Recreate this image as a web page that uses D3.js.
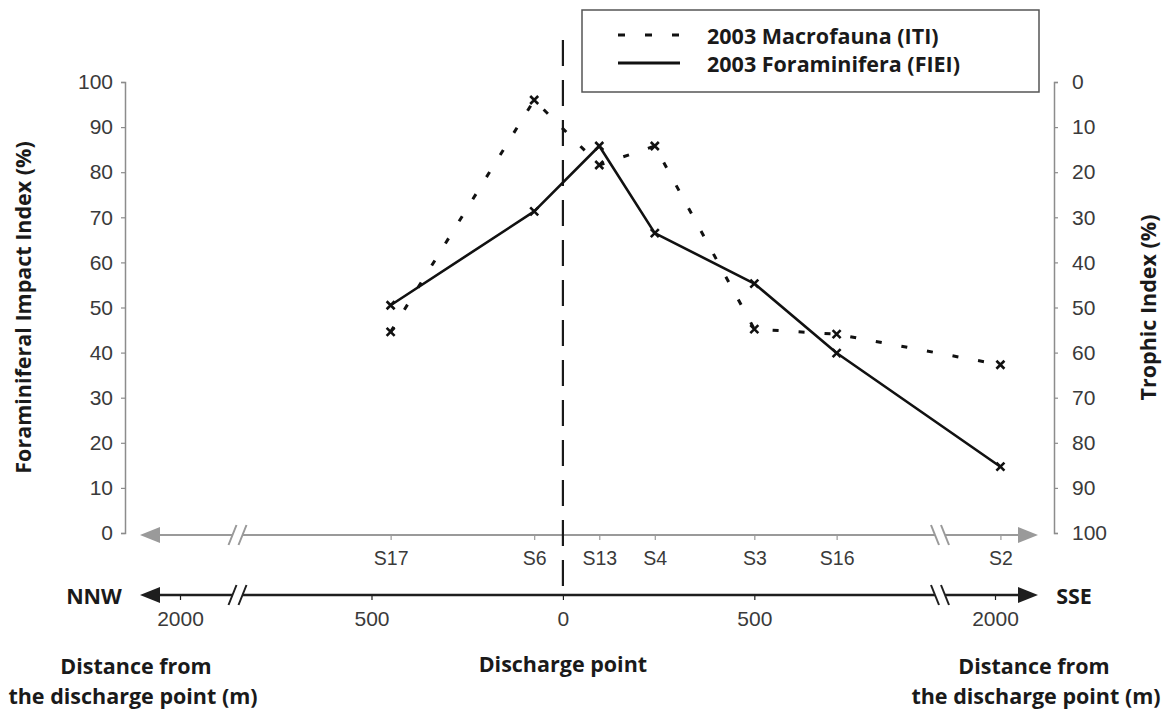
<!DOCTYPE html>
<html>
<head>
<meta charset="utf-8">
<script src="https://cdn.jsdelivr.net/npm/d3@7"></script>
<style>
  body { margin: 0; background: #fff; }
  svg { display: block; font-family: "Open Sans", sans-serif; }
  .axis-label { font-weight: bold; fill: #1a1a1a; }
  .tick text { fill: #3a3a3a; }
</style>
</head>
<body>
<div id="chart"></div>
<script>
// --- data ---
const stations = ["S17", "S6", "S13", "S4", "S3", "S16", "S2"];
// signed distance from the discharge point (m), NNW negative / SSE positive
const stationDistance = [-450, -75, 95, 240, 500, 715, 2100];
const foraminiferaFIEI = [50.5, 71.3, 85.8, 66.5, 55.3, 39.9, 14.7];   // left axis
const macrofaunaITI = [55.4, 4.0, 18.4, 14.2, 54.8, 55.9, 62.7];      // right axis (reversed)
const indexTicks = [0, 10, 20, 30, 40, 50, 60, 70, 80, 90, 100];
const distanceTicks = [-2000, -500, 0, 500, 2000];
const distanceTickLabels = ["2000", "500", "0", "500", "2000"];
const seriesNames = ["2003 Macrofauna (ITI)", "2003 Foraminifera (FIEI)"];

(function () {
    const W = 1165, H = 711;
    const plot = { left: 125, right: 1054, top: 82, bottom: 533 };
    const grayAxisY = 535, blackAxisY = 595;
    const arrowLeft = 140, arrowRight = 1038;
    const breakLeft = -850, breakRight = 985;   // axis breaks (m)
    const boldSize = "21.5px";

    const svg = d3.select("#chart").append("svg")
        .attr("width", W).attr("height", H);

    // 1. Scales (x is piecewise so the far stations sit beyond the break)
    const x = d3.scaleLinear()
        .domain([-2000, breakLeft, breakRight, 2000])
        .range([180, 237.5, 940, 995]);
    const yLeft = d3.scaleLinear().domain([0, 100]).range([plot.bottom, plot.top]);
    const yRight = d3.scaleLinear().domain([0, 100]).range([plot.top, plot.bottom]);

    // 2. Y axes
    const styleAxis = g => {
        g.select(".domain").attr("stroke", "#8c8c8c").attr("stroke-width", 1.5);
        g.selectAll(".tick line").attr("stroke", "#8c8c8c").attr("stroke-width", 1.2);
        g.selectAll(".tick text").style("font-size", "21px");
    };
    svg.append("g")
        .attr("transform", `translate(${plot.left},0)`)
        .call(d3.axisLeft(yLeft).tickValues(indexTicks).tickSize(4).tickSizeOuter(4).tickPadding(8))
        .call(styleAxis);
    svg.append("g")
        .attr("transform", `translate(${plot.right},0)`)
        .call(d3.axisRight(yRight).tickValues(indexTicks).tickSize(4).tickSizeOuter(4).tickPadding(14))
        .call(styleAxis);

    svg.append("text").attr("class", "axis-label")
        .attr("transform", `translate(22,${(plot.top + plot.bottom) / 2}) rotate(-90)`)
        .attr("text-anchor", "middle").attr("dominant-baseline", "central")
        .style("font-size", boldSize)
        .text("Foraminiferal Impact Index (%)");
    svg.append("text").attr("class", "axis-label")
        .attr("transform", `translate(1147,${(plot.top + plot.bottom) / 2}) rotate(-90)`)
        .attr("text-anchor", "middle").attr("dominant-baseline", "central")
        .style("font-size", boldSize)
        .text("Trophic Index (%)");

    // 3. Horizontal axes: gray station axis and black distance axis
    const drawArrowAxis = (y, color, width, head) => {
        const g = svg.append("g");
        g.append("line")
            .attr("x1", arrowLeft + head).attr("x2", arrowRight - head)
            .attr("y1", y).attr("y2", y)
            .attr("stroke", color).attr("stroke-width", width);
        g.append("path")
            .attr("d", `M${arrowLeft},${y}L${arrowLeft + head + 2},${y - 8}L${arrowLeft + head + 2},${y + 8}Z`)
            .attr("fill", color);
        g.append("path")
            .attr("d", `M${arrowRight},${y}L${arrowRight - head - 2},${y - 8}L${arrowRight - head - 2},${y + 8}Z`)
            .attr("fill", color);
        // axis breaks
        [[breakLeft, 1], [breakRight, -1]].forEach(([b, dir]) => {
            const cx = x(b);
            g.append("rect")
                .attr("x", cx - 5).attr("y", y - 3).attr("width", 10).attr("height", 6)
                .attr("fill", "#fff");
            [-5, 5].forEach(off => {
                g.append("line")
                    .attr("x1", cx + off - 4 * dir).attr("y1", y + 10)
                    .attr("x2", cx + off + 4 * dir).attr("y2", y - 10)
                    .attr("stroke", color).attr("stroke-width", 2);
            });
        });
        return g;
    };

    drawArrowAxis(grayAxisY, "#9a9a9a", 2.2, 18);
    drawArrowAxis(blackAxisY, "#1e1e1e", 2.6, 18);

    const stationAxis = svg.append("g")
        .attr("transform", `translate(0,${grayAxisY})`)
        .call(d3.axisBottom(x).tickValues(stationDistance)
            .tickFormat((d, i) => stations[i]).tickSize(5).tickPadding(11));
    stationAxis.select(".domain").remove();
    stationAxis.selectAll(".tick line").attr("stroke", "#9a9a9a").attr("stroke-width", 1.2);
    stationAxis.selectAll(".tick text").style("font-size", "19.5px").attr("fill", "#4a4a4a");

    const distAxis = svg.append("g")
        .attr("transform", `translate(0,${blackAxisY})`)
        .call(d3.axisBottom(x).tickValues(distanceTicks)
            .tickFormat((d, i) => distanceTickLabels[i]).tickSize(5).tickPadding(11));
    distAxis.select(".domain").remove();
    distAxis.selectAll(".tick line").attr("stroke", "#1e1e1e").attr("stroke-width", 1.2);
    distAxis.selectAll(".tick text").style("font-size", "21px").attr("fill", "#2a2a2a");

    // direction and distance captions
    const caption = (tx, ty, txt) => svg.append("text").attr("class", "axis-label")
        .attr("x", tx).attr("y", ty).attr("text-anchor", "middle")
        .attr("dominant-baseline", "central").style("font-size", boldSize).text(txt);
    caption(94, blackAxisY, "NNW");
    caption(1074, blackAxisY, "SSE");
    caption(136, 665, "Distance from");
    caption(133, 695, "the discharge point (m)");
    caption(x(0), 663, "Discharge point");
    caption(1034, 665, "Distance from");
    caption(1036, 695, "the discharge point (m)");

    // 4. Discharge point marker line
    svg.append("line")
        .attr("x1", x(0)).attr("x2", x(0))
        .attr("y1", 40).attr("y2", 600)
        .attr("stroke", "#1a1a1a").attr("stroke-width", 2.2)
        .attr("stroke-dasharray", "26,14");

    // 5. Series lines and markers
    const macroPts = stations.map((s, i) => [x(stationDistance[i]), yRight(macrofaunaITI[i])]);
    const foramPts = stations.map((s, i) => [x(stationDistance[i]), yLeft(foraminiferaFIEI[i])]);
    const line = d3.line();

    svg.append("path")
        .attr("d", line(macroPts))
        .attr("fill", "none").attr("stroke", "#111")
        .attr("stroke-width", 3).attr("stroke-dasharray", "6,20");
    svg.append("path")
        .attr("d", line(foramPts))
        .attr("fill", "none").attr("stroke", "#111")
        .attr("stroke-width", 2.6).attr("stroke-linejoin", "round");

    const cross = "M-4,-4L4,4M-4,4L4,-4";
    svg.append("g").selectAll("path")
        .data(macroPts.concat(foramPts))
        .join("path")
        .attr("transform", d => `translate(${d[0]},${d[1]})`)
        .attr("d", cross)
        .attr("stroke", "#111").attr("stroke-width", 2.6);

    // 6. Legend
    const legend = svg.append("g");
    legend.append("rect")
        .attr("x", 582).attr("y", 10).attr("width", 457).attr("height", 82)
        .attr("fill", "#fff").attr("stroke", "#555").attr("stroke-width", 1.5);
    [35, 63].forEach((ly, i) => {
        legend.append("line")
            .attr("x1", 618).attr("x2", 680).attr("y1", ly).attr("y2", ly)
            .attr("stroke", "#111").attr("stroke-width", 3)
            .attr("stroke-dasharray", i === 0 ? "7,20" : null);
        legend.append("text").attr("class", "axis-label")
            .attr("x", 707).attr("y", ly).attr("dominant-baseline", "central")
            .style("font-size", boldSize).text(seriesNames[i]);
    });
})();
</script>
</body>
</html>
